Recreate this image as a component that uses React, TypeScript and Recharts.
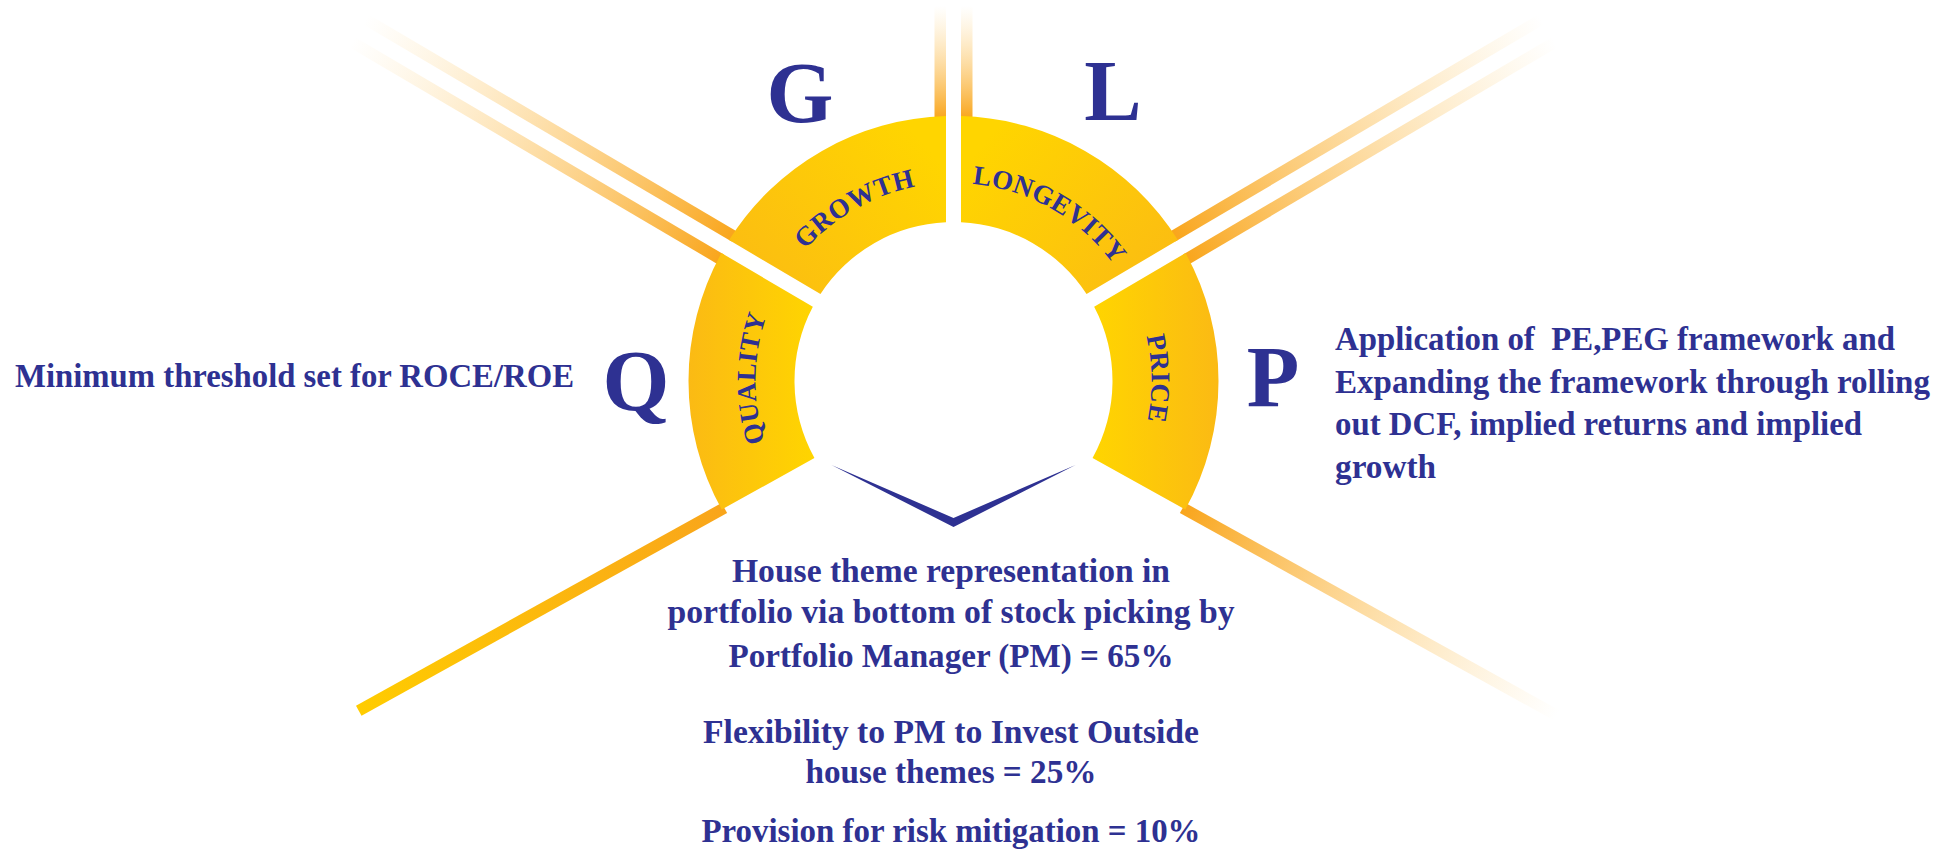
import { PieChart, Pie, Cell, Customized } from 'recharts';

// four pillars, equal share of the arc
const pillars = ['QUALITY', 'GROWTH', 'LONGEVITY', 'PRICE'];
const pillarShares = [1, 1, 1, 1];
const pillarInitials = ['Q', 'G', 'L', 'P'];

const qualityNote = ['Minimum threshold set for ROCE/ROE'];
const priceNote = [
  'Application of  PE,PEG framework and',
  'Expanding the framework through rolling',
  'out DCF, implied returns and implied',
  'growth',
];
const portfolioNote = [
  'House theme representation in',
  'portfolio via bottom of stock picking by',
  'Portfolio Manager (PM) = 65%',
  'Flexibility to PM to Invest Outside',
  'house themes = 25%',
  'Provision for risk mitigation = 10%',
];

// layout
const W = 1946;
const H = 851;
const CX = 953.5;
const CY = 381;
const R_OUT = 265;
const R_IN = 159;
const START = 209;
const END = -29;
const GAP = 15;
const RAY_W = 11.5;
const NAVY = '#2E3192';
const FONT = '"Liberation Serif", "Times New Roman", serif';

const initialPos = [
  { x: 636, y: 410 },
  { x: 800, y: 122 },
  { x: 1113, y: 120 },
  { x: 1273, y: 406 },
];
const qualityLayout = { x: 15, y: 387, widths: [559] };
const priceLayout = { x: 1335, y: 350, step: 42.5, widths: [560, 595, 527, 101] };
const portfolioLayout = {
  x: 951,
  ys: [582, 623, 667, 743, 783, 842],
  widths: [438, 567, 445, 496, 291, 499],
};

const gradients = [
  { id: 'seg-0', x1: 0, y1: 0, x2: 1, y2: 0, from: '#FBBA14', to: '#FFD500' },
  { id: 'seg-1', x1: 0, y1: 1, x2: 1, y2: 0.3, from: '#FBBA14', to: '#FFD500' },
  { id: 'seg-2', x1: 0, y1: 0.3, x2: 1, y2: 1, from: '#FFD500', to: '#FBBA14' },
  { id: 'seg-3', x1: 0, y1: 0, x2: 1, y2: 0, from: '#FFD500', to: '#FBBA14' },
];

const data = pillars.map((name, i) => ({ name, value: pillarShares[i] }));

const rad = (a: number) => (a * Math.PI) / 180;
const polar = (cx: number, cy: number, r: number, a: number) => ({
  x: cx + r * Math.cos(rad(a)),
  y: cy - r * Math.sin(rad(a)),
});

// sector with parallel-sided white gaps between neighbours
function GappedSector(props: any) {
  const { cx, cy, innerRadius, outerRadius, startAngle, endAngle, fill } = props;
  const ds = Math.abs(startAngle - START) < 0.01 ? 0 : GAP / 2;
  const de = Math.abs(endAngle - END) < 0.01 ? 0 : GAP / 2;
  const off = (d: number, r: number) => (Math.asin(d / r) * 180) / Math.PI;
  const p1 = polar(cx, cy, outerRadius, startAngle - off(ds, outerRadius));
  const p2 = polar(cx, cy, outerRadius, endAngle + off(de, outerRadius));
  const p3 = polar(cx, cy, innerRadius, endAngle + off(de, innerRadius));
  const p4 = polar(cx, cy, innerRadius, startAngle - off(ds, innerRadius));
  const d =
    `M${p1.x},${p1.y} A${outerRadius},${outerRadius} 0 0 1 ${p2.x},${p2.y} ` +
    `L${p3.x},${p3.y} A${innerRadius},${innerRadius} 0 0 0 ${p4.x},${p4.y} Z`;
  return <path d={d} fill={fill} stroke="none" />;
}

function ArcLabel(props: any) {
  const { cx, cy, midAngle, index } = props;
  const r = 198;
  const a = polar(cx, cy, r, midAngle + 45);
  const b = polar(cx, cy, r, midAngle - 45);
  const id = `pillar-arc-${index}`;
  const pos = initialPos[index];
  return (
    <g>
      <path id={id} d={`M${a.x},${a.y} A${r},${r} 0 0 1 ${b.x},${b.y}`} fill="none" />
      <text
        fontFamily={FONT}
        fontWeight="bold"
        fontSize={27}
        letterSpacing={0.3}
        fill={NAVY}
        textAnchor="middle"
      >
        <textPath href={`#${id}`} startOffset="50%">
          {pillars[index]}
        </textPath>
      </text>
      <text
        x={pos.x}
        y={pos.y}
        fontFamily={FONT}
        fontWeight="bold"
        fontSize={86}
        fill={NAVY}
        textAnchor="middle"
      >
        {pillarInitials[index]}
      </text>
    </g>
  );
}

function Ray({ angle, offset, r0, r1, id, from, to, fade }: any) {
  const u = { x: Math.cos(rad(angle)), y: -Math.sin(rad(angle)) };
  const n = { x: Math.sin(rad(angle)), y: Math.cos(rad(angle)) };
  const s = { x: CX + r0 * u.x + offset * n.x, y: CY + r0 * u.y + offset * n.y };
  const e = { x: CX + r1 * u.x + offset * n.x, y: CY + r1 * u.y + offset * n.y };
  return (
    <g>
      <defs>
        <linearGradient id={id} gradientUnits="userSpaceOnUse" x1={s.x} y1={s.y} x2={e.x} y2={e.y}>
          <stop offset="0" stopColor={from} stopOpacity={1} />
          <stop offset="1" stopColor={to} stopOpacity={fade ? 0 : 1} />
        </linearGradient>
      </defs>
      <line x1={s.x} y1={s.y} x2={e.x} y2={e.y} stroke={`url(#${id})`} strokeWidth={RAY_W} />
    </g>
  );
}

function Decorations() {
  const span = (START - END) / pillars.length;
  const inner = [1, 2, 3].map((k) => START - k * span);
  const side = GAP / 2 + RAY_W / 2;
  const rays: any[] = [];
  inner.forEach((a, i) => {
    const r1 = Math.abs(a - 90) < 1 ? CY - 6 : 690;
    [-side, side].forEach((o, j) => {
      rays.push({ angle: a, offset: o, r0: 262, r1, id: `ray-${i}-${j}`, from: '#F9A51B', to: '#FDD27E', fade: true });
    });
  });
  rays.push({ angle: START, offset: 0, r0: 262, r1: 680, id: 'ray-start', from: '#F9A51B', to: '#FFCC00', fade: false });
  rays.push({ angle: END, offset: 0, r0: 262, r1: 690, id: 'ray-end', from: '#F9A51B', to: '#FDD27E', fade: true });

  const chev = [
    [CX - 122, CY + 84],
    [CX, CY + 146],
    [CX + 122, CY + 84],
    [CX, CY + 137],
  ]
    .map((p) => p.join(','))
    .join(' ');

  const textProps = {
    fontFamily: FONT,
    fontWeight: 'bold' as const,
    fontSize: 33,
    fill: NAVY,
    lengthAdjust: 'spacingAndGlyphs',
    style: { whiteSpace: 'pre' as const },
  };

  return (
    <g>
      {rays.map((r) => (
        <Ray key={r.id} {...r} />
      ))}
      <polygon points={chev} fill={NAVY} />
      {qualityNote.map((t, i) => (
        <text key={t} x={qualityLayout.x} y={qualityLayout.y} textLength={qualityLayout.widths[i]} {...textProps}>
          {t}
        </text>
      ))}
      {priceNote.map((t, i) => (
        <text
          key={t}
          x={priceLayout.x}
          y={priceLayout.y + i * priceLayout.step}
          textLength={priceLayout.widths[i]}
          {...textProps}
        >
          {t}
        </text>
      ))}
      {portfolioNote.map((t, i) => (
        <text
          key={t}
          x={portfolioLayout.x}
          y={portfolioLayout.ys[i]}
          textLength={portfolioLayout.widths[i]}
          textAnchor="middle"
          {...textProps}
        >
          {t}
        </text>
      ))}
    </g>
  );
}

export default function App() {
  return (
    <div style={{ position: 'absolute', left: 0, top: 0, width: W, height: H, background: '#fff' }}>
      <PieChart width={W} height={H} margin={{ top: 0, right: 0, bottom: 0, left: 0 }}>
        <defs>
          {gradients.map((g) => (
            <linearGradient key={g.id} id={g.id} x1={g.x1} y1={g.y1} x2={g.x2} y2={g.y2}>
              <stop offset="0" stopColor={g.from} />
              <stop offset="1" stopColor={g.to} />
            </linearGradient>
          ))}
        </defs>
        <Pie
          data={data}
          dataKey="value"
          nameKey="name"
          cx={CX}
          cy={CY}
          innerRadius={R_IN}
          outerRadius={R_OUT}
          startAngle={START}
          endAngle={END}
          paddingAngle={0}
          stroke="none"
          shape={GappedSector}
          inactiveShape={GappedSector}
          label={ArcLabel}
          labelLine={false}
          isAnimationActive={false}
        >
          {data.map((d, i) => (
            <Cell key={d.name} fill={`url(#seg-${i})`} />
          ))}
        </Pie>
        <Customized component={<Decorations />} />
      </PieChart>
    </div>
  );
}
